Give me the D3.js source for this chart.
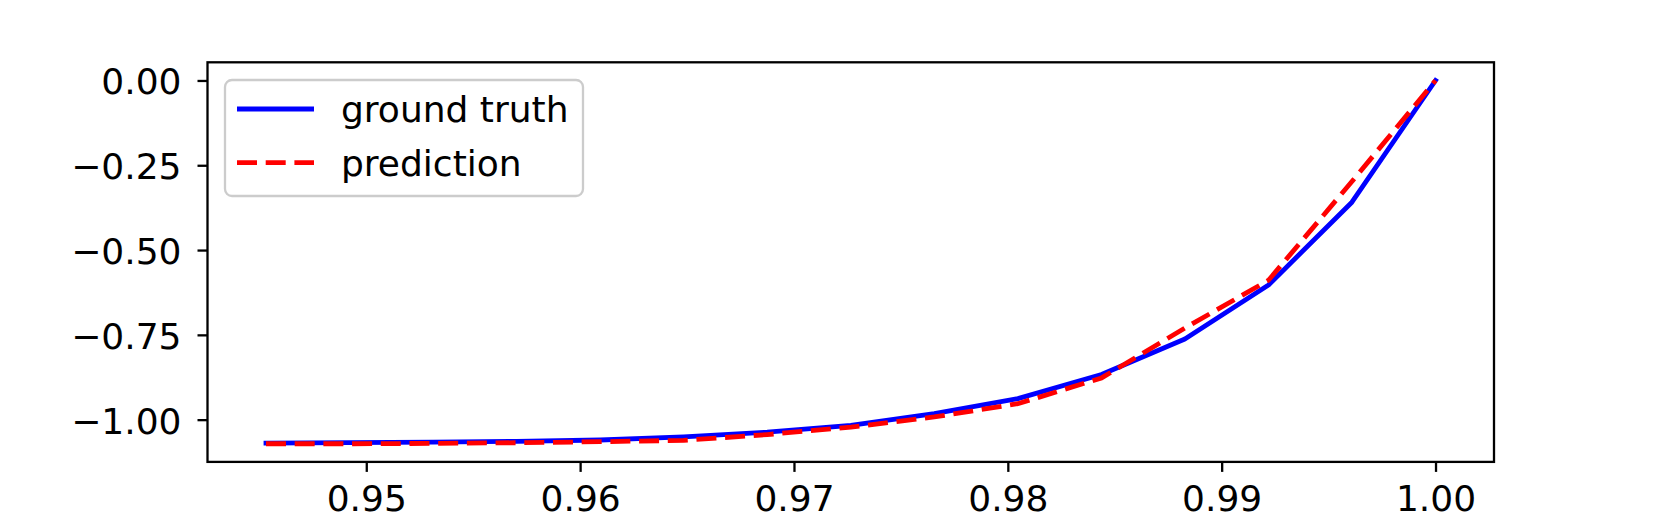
<!DOCTYPE html>
<html>
<head>
<meta charset="utf-8">
<script src="https://cdn.jsdelivr.net/npm/d3@7"></script>
<style>
  html, body { margin: 0; padding: 0; background: #ffffff; }
  svg { display: block; }
  text { font-family: "DejaVu Sans", sans-serif; fill: #000; }
</style>
</head>
<body>
<svg id="chart" width="1660" height="519"></svg>
<script>
// ---- data ----
const xValues = [0.94531, 0.94922, 0.95313, 0.95703, 0.96094, 0.96484, 0.96875, 0.97266,
                 0.97656, 0.98047, 0.98438, 0.98828, 0.99219, 0.99609, 1.0];
const groundTruth = [-1.069, -1.068, -1.066, -1.064, -1.060, -1.051, -1.037, -1.017,
                     -0.982, -0.938, -0.867, -0.762, -0.603, -0.359, 0.0];
const prediction = [-1.071, -1.071, -1.070, -1.068, -1.065, -1.061, -1.044, -1.022,
                    -0.992, -0.953, -0.877, -0.730, -0.589, -0.298, 0.0];
const xTicks = [0.95, 0.96, 0.97, 0.98, 0.99, 1.00];
const yTicks = [0.00, -0.25, -0.50, -0.75, -1.00];
const seriesNames = ["ground truth", "prediction"];
const seriesColors = ["#0000ff", "#ff0000"];

// ---- layout ----
const W = 1660, H = 519;
const L = 207.5, R = 1494, T = 62.3, B = 461.9;
const FS = 36;

function padExtent(arr) {
  const [a, b] = d3.extent(arr);
  const m = (b - a) * 0.05;
  return [a - m, b + m];
}
const x = d3.scaleLinear().domain(padExtent(xValues)).range([L, R]);
const y = d3.scaleLinear().domain(padExtent(groundTruth.concat(prediction))).range([B, T]);

const svg = d3.select("#chart");

// lines
svg.append("clipPath").attr("id", "clip")
  .append("rect").attr("x", L).attr("y", T).attr("width", R - L).attr("height", B - T);

const line = d3.line().x((d, i) => x(xValues[i])).y(d => y(d));
const plot = svg.append("g").attr("clip-path", "url(#clip)");
plot.append("path").datum(groundTruth)
  .attr("d", line).attr("fill", "none").attr("stroke", seriesColors[0])
  .attr("stroke-width", 4.8).attr("stroke-linejoin", "round").attr("stroke-linecap", "square");
plot.append("path").datum(prediction)
  .attr("d", line).attr("fill", "none").attr("stroke", seriesColors[1])
  .attr("stroke-width", 4.8).attr("stroke-dasharray", "20,8.7").attr("stroke-linecap", "butt");

// axes
const xAxis = d3.axisBottom(x).tickValues(xTicks).tickFormat(d3.format(".2f"))
  .tickSize(10).tickSizeOuter(0).tickPadding(8);
const gx = svg.append("g").attr("transform", `translate(0,${B})`).call(xAxis);
gx.select(".domain").remove();
gx.selectAll(".tick line").attr("stroke", "#000").attr("stroke-width", 2.3);
gx.selectAll(".tick text").attr("font-size", FS).attr("font-family", "DejaVu Sans")
  .attr("fill", "#000").attr("dy", null).attr("y", 49);

const yFmt = d => d3.format(".2f")(d).replace("-", "\u2212");
const yAxis = d3.axisLeft(y).tickValues(yTicks).tickFormat(yFmt)
  .tickSize(10).tickSizeOuter(0);
const gy = svg.append("g").attr("transform", `translate(${L},0)`).call(yAxis);
gy.select(".domain").remove();
gy.selectAll(".tick line").attr("stroke", "#000").attr("stroke-width", 2.3);
gy.selectAll(".tick text").attr("font-size", FS).attr("font-family", "DejaVu Sans")
  .attr("fill", "#000").attr("x", -26).attr("dy", null).attr("y", 13.5);

// frame
svg.append("rect").attr("x", L).attr("y", T).attr("width", R - L).attr("height", B - T)
  .attr("fill", "none").attr("stroke", "#000").attr("stroke-width", 2.3);

// legend
const lg = svg.append("g");
lg.append("rect").attr("x", 225).attr("y", 80).attr("width", 358).attr("height", 116)
  .attr("rx", 7).attr("ry", 7).attr("fill", "#fff").attr("fill-opacity", 0.8)
  .attr("stroke", "#cccccc").attr("stroke-width", 2.3);
const rowY = [109, 162.7];
seriesNames.forEach((name, i) => {
  lg.append("line").attr("x1", 237).attr("x2", 314).attr("y1", rowY[i]).attr("y2", rowY[i])
    .attr("stroke", seriesColors[i]).attr("stroke-width", 4.8)
    .attr("stroke-dasharray", i === 1 ? "20,8.7" : null);
  lg.append("text").attr("x", 341).attr("y", rowY[i] + 13)
    .attr("font-size", FS).text(name);
});
</script>
</body>
</html>
